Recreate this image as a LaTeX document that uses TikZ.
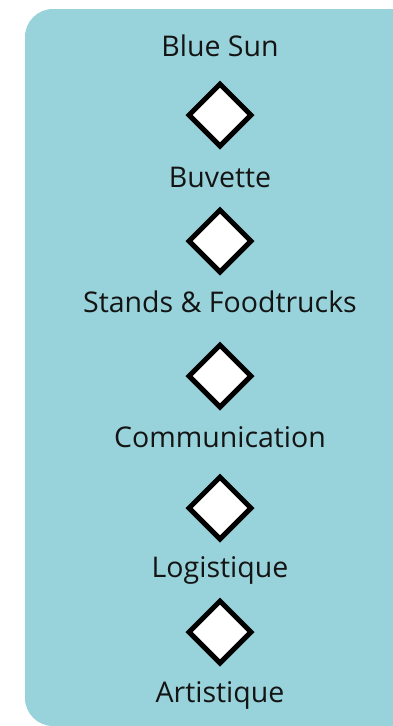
\documentclass[tikz,border=0pt]{standalone}
\usepackage{fontspec}
\setmainfont{Open Sans}
\usetikzlibrary{shapes.geometric}
\definecolor{bgteal}{HTML}{98D2DA}
\begin{document}
\begin{tikzpicture}[x=1pt,y=1pt,
  lbl/.style={font=\fontsize{28.5}{32}\selectfont, text=black!92, anchor=base, inner sep=0pt},
  dia/.style={draw=black, fill=white, line width=5pt, diamond, minimum width=64pt, minimum height=64pt, inner sep=0pt}]
\useasboundingbox (0,0) rectangle (392,-726);
\fill[bgteal, rounded corners=28pt] (25,-9) rectangle (440,-726);
\fill[bgteal] (300,-9) rectangle (392,-760);
\node[lbl] (t1) at (220,-56) {Blue Sun};
\node[dia] (d1) at (220,-115) {};
\node[lbl] (t2) at (220,-187) {Buvette};
\node[dia] (d2) at (220,-241) {};
\node[lbl] (t3) at (220,-312) {Stands \& Foodtrucks};
\node[dia] (d3) at (220,-376) {};
\node[lbl] (t4) at (220,-447) {Communication};
\node[dia] (d4) at (220,-508) {};
\node[lbl] (t5) at (220,-577) {Logistique};
\node[dia] (d5) at (220,-632) {};
\node[lbl] (t6) at (220,-702) {Artistique};
\end{tikzpicture}
\end{document}
